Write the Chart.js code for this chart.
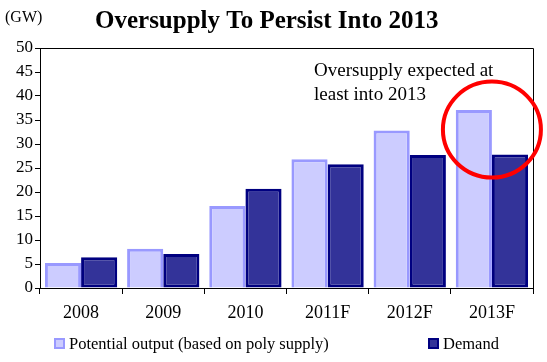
<!DOCTYPE html>
<html>
<head>
<meta charset="utf-8">
<script src="https://cdn.jsdelivr.net/npm/chart.js@4.4.0/dist/chart.umd.min.js"></script>
<style>
  html, body { margin: 0; padding: 0; background: #fff; }
  #wrap { width: 547px; height: 362px; }
</style>
</head>
<body>
<div id="wrap"><canvas id="chart1"></canvas></div>
<script>
var years = ['2008', '2009', '2010', '2011F', '2012F', '2013F'];
var potential = [5.2, 8.2, 17.1, 26.8, 32.8, 37.1];
var demand = [6.4, 7.1, 20.7, 25.8, 27.7, 27.8];
var yTicks = [0, 5, 10, 15, 20, 25, 30, 35, 40, 45, 50];

var serif = "'Times New Roman', 'Liberation Serif', serif";

// title, unit, note, red circle, frame and legend drawn on top
var extras = {
  id: 'extras',
  afterDraw: function (chart) {
    var ctx = chart.ctx;
    var area = chart.chartArea;
    var x = chart.scales.x, y = chart.scales.y;
    ctx.save();

    // frame top + right
    ctx.strokeStyle = '#000';
    ctx.lineWidth = 1;
    ctx.beginPath();
    ctx.moveTo(area.left, area.top + 0.5);
    ctx.lineTo(area.right + 0.5, area.top + 0.5);
    ctx.lineTo(area.right + 0.5, area.bottom);
    ctx.stroke();

    ctx.fillStyle = '#000';
    ctx.textBaseline = 'alphabetic';
    ctx.textAlign = 'left';
    ctx.font = 'bold 25px ' + serif;
    ctx.fillText('Oversupply To Persist Into 2013', 95, 28);

    ctx.font = '16px ' + serif;
    ctx.fillText('(GW)', 5, 22);

    ctx.font = '19px ' + serif;
    ctx.fillText('Oversupply expected at', 314, 76);
    ctx.fillText('least into 2013', 314, 100);

    // circle around the 2013F bars
    var cx = x.getPixelForValue(5);
    var cy = y.getPixelForValue(33);
    var r = y.getPixelForValue(0) - y.getPixelForValue(10);
    ctx.strokeStyle = '#ff0000';
    ctx.lineWidth = 4;
    ctx.beginPath();
    ctx.ellipse(cx, cy, r + 1, r, 0, 0, Math.PI * 2);
    ctx.stroke();

    // legend
    var items = [
      { text: 'Potential output (based on poly supply)', fill: '#ccccff', line: '#9999ff', bx: 55 },
      { text: 'Demand', fill: '#333399', line: '#000080', bx: 429 }
    ];
    ctx.font = '16.5px ' + serif;
    items.forEach(function (it) {
      ctx.fillStyle = it.fill;
      ctx.fillRect(it.bx, 339, 9, 9);
      ctx.strokeStyle = it.line;
      ctx.lineWidth = 2;
      ctx.strokeRect(it.bx, 339, 9, 9);
      ctx.fillStyle = '#000';
      ctx.fillText(it.text, it.bx + 14, 349);
    });
    ctx.restore();
  }
};

new Chart(document.getElementById('chart1'), {
  type: 'bar',
  data: {
    labels: years,
    datasets: [
      {
        label: 'Potential output (based on poly supply)',
        data: potential,
        backgroundColor: '#ccccff',
        borderColor: '#9999ff',
        borderWidth: 3,
        borderSkipped: 'bottom',
        categoryPercentage: 0.88,
        barPercentage: 1.0
      },
      {
        label: 'Demand',
        data: demand,
        backgroundColor: '#333399',
        borderColor: '#000080',
        borderWidth: 3,
        borderSkipped: false,
        categoryPercentage: 0.88,
        barPercentage: 1.0
      }
    ]
  },
  options: {
    responsive: true,
    maintainAspectRatio: false,
    animation: false,
    layout: { padding: { left: 0, right: 14, top: 48, bottom: 34 } },
    plugins: {
      legend: { display: false },
      title: { display: false },
      tooltip: { enabled: false }
    },
    scales: {
      x: {
        offset: true,
        grid: { display: true, offset: true, drawOnChartArea: false, tickLength: 6, color: '#000' },
        border: { display: true, color: '#000', width: 1 },
        ticks: { color: '#000', font: { family: serif, size: 18 }, padding: 8, maxRotation: 0 },
        afterFit: function (s) { s.height = 40; }
      },
      y: {
        min: 0,
        max: 50,
        afterBuildTicks: function (s) { s.ticks = yTicks.map(function (v) { return { value: v }; }); },
        grid: { display: true, drawOnChartArea: false, tickLength: 5, color: '#000' },
        border: { display: true, color: '#000', width: 1 },
        ticks: { color: '#000', font: { family: serif, size: 17 }, padding: 2 },
        afterFit: function (s) { s.width = 40; }
      }
    }
  },
  plugins: [extras]
});
</script>
</body>
</html>
